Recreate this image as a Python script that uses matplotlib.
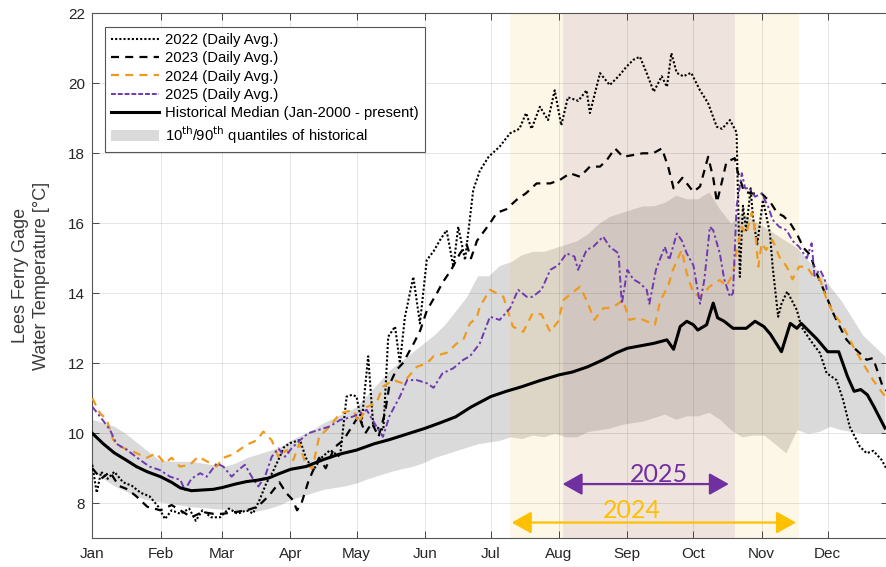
import matplotlib
matplotlib.use("Agg")
import matplotlib.pyplot as plt
from matplotlib.patches import Patch
from matplotlib.lines import Line2D

# ---------------- data (day of year, °C) ----------------
month_labels = ["Jan", "Feb", "Mar", "Apr", "May", "Jun",
                "Jul", "Aug", "Sep", "Oct", "Nov", "Dec"]
month_days = [0, 31, 59, 90, 120, 151, 181, 212, 243, 273, 304, 334]
y_ticks = [8, 10, 12, 14, 16, 18, 20, 22]

q_day = list(range(0, 361, 5))
q90 = [10.4, 10.3, 10.2, 10.0, 9.75, 9.5, 9.25, 9.2, 9.2, 9.2, 9.15, 9.1, 9.05,
       9.15, 9.3, 9.4, 9.5, 9.6, 9.8, 9.95, 10.1, 10.3, 10.45, 10.6, 10.76,
       11.1, 11.45, 11.8, 12.05, 12.3, 12.55, 12.8, 13.1, 13.5, 13.9, 14.5,
       14.5, 14.8, 14.9, 15.1, 15.2, 15.2, 15.3, 15.4, 15.5, 15.7, 16.0, 16.2,
       16.3, 16.4, 16.5, 16.5, 16.6, 16.8, 16.7, 16.7, 16.9, 16.4, 16.0, 16.3,
       16.1, 15.9, 15.7, 15.5, 15.3, 14.95, 14.6, 14.2, 13.8, 13.3, 12.8,
       12.5, 12.2]
q10 = [8.9, 8.7, 8.5, 8.35, 8.2, 8.1, 8.05, 8.0, 7.95, 7.9, 7.88, 7.85, 7.83,
       7.8, 7.78, 7.78, 7.85, 7.95, 8.1, 8.2, 8.3, 8.4, 8.45, 8.5, 8.58, 8.7,
       8.8, 8.9, 8.98, 9.05, 9.15, 9.3, 9.4, 9.5, 9.6, 9.7, 9.75, 9.8, 9.9,
       9.85, 9.95, 9.9, 10.0, 9.9, 9.9, 10.05, 10.1, 10.15, 10.25, 10.3, 10.35,
       10.45, 10.55, 10.4, 10.5, 10.5, 10.6, 10.4, 10.1, 9.9, 9.95, 9.95, 9.7,
       9.44, 10.1, 10.0, 10.05, 10.2, 10.1, 10.05, 10.0, 10.0, 10.0]

med_day = [0, 5, 10, 15, 20, 25, 31, 36, 40, 45, 50, 55, 59, 65, 70, 75, 80,
           85, 90, 97, 105, 112, 120, 128, 135, 143, 151, 158, 165, 172, 181,
           188, 195, 203, 212, 218, 225, 232, 238, 243, 249, 255, 258, 261,
           264, 267, 270, 273, 275, 279, 282, 284, 287, 291, 297, 301, 305,
           308, 313, 317, 320, 322, 325, 329, 334, 339, 343, 346, 349, 352,
           355, 360]
med_val = [10.0, 9.7, 9.44, 9.25, 9.05, 8.9, 8.76, 8.6, 8.44, 8.36, 8.38, 8.4,
           8.45, 8.55, 8.62, 8.66, 8.72, 8.85, 8.97, 9.05, 9.25, 9.4, 9.52, 9.7,
           9.82, 9.98, 10.14, 10.3, 10.47, 10.75, 11.05, 11.2, 11.33, 11.5,
           11.67, 11.75, 11.9, 12.1, 12.3, 12.43, 12.5, 12.57, 12.62, 12.67,
           12.4, 13.05, 13.2, 13.1, 12.95, 13.1, 13.72, 13.3, 13.2, 13.0, 13.0,
           13.2, 13.05, 12.83, 12.33, 13.14, 13.0, 13.14, 12.95, 12.7, 12.33,
           12.33, 11.62, 11.2, 11.25, 11.1, 10.76, 10.15]

y2022_day = [0, 2, 4, 7, 10, 14, 18, 22, 26, 30, 33, 36, 40, 44, 47, 50, 54,
             58, 62, 66, 70, 73, 76, 79, 82, 84.5, 87, 89.8, 94.3, 97, 100.4,
             104, 108, 112.5, 115.5, 118, 120, 122.3, 125.3, 127.6, 132.2,
             134.4, 137.5, 139.7, 142, 145.8, 148.8, 151.9, 155, 157.9, 160.9,
             164, 166.2, 169.3, 173, 176, 180, 185, 189.7, 194, 197, 199.5,
             203.3, 207, 210, 213, 216, 220.7, 224.5, 226, 230.6, 235, 239,
             242.7, 245.7, 248.7, 251.8, 255, 258.6, 261, 263, 265.4, 268.4,
             272, 276, 279.7, 283.6, 286, 289.6, 292.6, 294.1, 295.5, 297, 299,
             300, 302, 304.6, 307.8, 309, 311.5, 313, 315.6, 320, 322, 326,
             330.5, 333.5, 338, 341, 344, 348.6, 351.7, 354.7, 358.5, 361]
y2022_val = [9.1, 8.3, 8.9, 8.7, 8.9, 8.6, 8.5, 8.3, 8.2, 7.9, 7.55, 7.8, 7.7,
             7.85, 7.5, 7.8, 7.6, 7.6, 7.85, 7.7, 7.8, 7.71, 8.1, 8.57, 8.9,
             9.24, 9.6, 9.72, 9.81, 9.3, 8.95, 9.3, 9.52, 9.33, 11.05, 11.1,
             11.05, 10.3, 12.2, 10.2, 10.1, 12.76, 13.05, 12.0, 13.33, 14.47,
             13.14, 14.95, 15.2, 15.52, 15.8, 14.76, 15.9, 14.95, 16.95, 17.5,
             17.9, 18.19, 18.57, 18.7, 19.15, 18.7, 19.33, 18.95, 19.8, 18.8,
             19.6, 19.5, 19.8, 19.15, 20.29, 19.95, 20.2, 20.48, 20.67, 20.76,
             20.29, 19.76, 20.2, 19.9, 20.86, 20.3, 20.2, 20.3, 19.8, 19.43,
             18.76, 18.7, 18.95, 18.6, 14.47, 16.5, 15.8, 17.0, 16.2, 15.4,
             16.67, 15.7, 14.76, 13.33, 13.7, 14.05, 13.52, 13.05, 12.67,
             12.29, 11.72, 11.52, 10.95, 10.19, 9.62, 9.43, 9.5, 9.24, 8.95]

y2023_day = [0, 4, 8, 12, 16, 20, 25, 31, 36, 40, 45, 50, 55, 59, 65, 70, 75,
             80, 85, 88, 91, 93, 95, 98, 100, 103, 106, 110, 114, 118, 121,
             124, 127, 130, 133, 135, 138, 141, 146, 149, 152, 156.5, 159, 163,
             167, 170, 172, 174.7, 180.6, 183.7, 188, 192.7, 197, 201.8, 208,
             212.4, 217, 221.5, 226, 230.6, 233.6, 237.4, 241, 245.6, 250,
             254.7, 258.7, 261.6, 264, 268, 273, 276, 279.7, 282, 283.7, 286,
             288, 291.8, 293, 296, 300, 304, 308, 311, 314, 317, 320, 323, 326,
             329, 333.5, 336, 339, 342.6, 347, 351.7, 354.6, 359, 361]
y2023_val = [9.0, 8.7, 8.9, 8.5, 8.4, 8.2, 7.9, 7.8, 7.95, 7.8, 7.6, 7.75, 7.7,
             7.7, 7.75, 7.8, 7.9, 8.2, 8.6, 8.3, 8.1, 7.8, 8.0, 8.6, 8.9, 9.3,
             9.0, 9.6, 9.8, 10.2, 10.5, 10.0, 10.3, 9.9, 10.6, 11.4, 11.8, 12.0,
             12.57, 12.95, 13.52, 14.0, 14.3, 14.67, 15.14, 15.4, 15.0, 15.5,
             16.0, 16.3, 16.4, 16.67, 16.86, 17.14, 17.14, 17.24, 17.43, 17.33,
             17.62, 17.62, 17.8, 18.14, 17.9, 17.95, 18.0, 18.0, 18.14, 17.6,
             17.0, 17.3, 16.9, 17.05, 17.9, 17.3, 16.6, 17.2, 17.75, 17.86,
             17.5, 16.9, 16.85, 16.85, 16.6, 16.3, 16.2, 16.0, 15.7, 15.3,
             15.1, 14.57, 13.9, 13.5, 13.1, 12.67, 12.38, 12.1, 12.15, 11.33,
             11.2]

y2024_day = [0, 3.5, 6.5, 9.5, 12.6, 18.5, 24.7, 29, 33, 36, 39.8, 44.4, 48,
             52, 56.5, 59.5, 64, 70, 74.7, 77.7, 81.5, 84.5, 88.3, 91.3, 94,
             97, 100, 103, 108, 112.5, 118.5, 121, 124.6, 129, 132, 136.7, 141,
             147.4, 152, 155, 161, 165.6, 168.5, 171.5, 174.6, 176, 180.6,
             186.7, 191, 195.7, 200, 204, 208, 211.6, 214, 217.7, 221.5, 224.5,
             228, 232, 236.5, 241, 244, 248, 251.8, 255.5, 258, 261.5, 263.7,
             267.7, 270, 273, 276, 280.5, 285, 288, 291, 292.6, 295, 297, 299.5,
             301, 302.5, 304, 306, 309, 312, 315.4, 318, 321, 324.5, 327.5,
             330.5, 333.6, 336, 341, 345.6, 350, 354.6, 359, 361]
y2024_val = [11.0, 10.57, 10.4, 9.81, 9.62, 9.48, 9.3, 9.43, 9.14, 9.3, 9.05,
             9.1, 9.33, 9.2, 9.05, 9.3, 9.4, 9.67, 9.8, 10.05, 9.8, 9.33, 9.52,
             9.24, 9.7, 9.1, 9.0, 9.9, 10.2, 10.57, 10.67, 10.3, 10.75, 10.86,
             11.33, 11.52, 11.43, 11.9, 12.0, 12.2, 12.3, 12.57, 12.67, 13.14,
             13.3, 13.62, 14.1, 13.9, 13.05, 12.9, 13.43, 13.4, 12.9, 13.2,
             13.81, 14.0, 14.19, 13.8, 13.24, 13.57, 13.6, 13.8, 13.24, 13.3,
             13.2, 13.1, 13.8, 14.2, 14.67, 15.24, 14.57, 14.0, 13.9, 14.2,
             14.38, 14.2, 14.57, 15.2, 15.9, 15.7, 16.3, 15.8, 14.76, 15.43,
             15.24, 15.52, 15.05, 14.76, 14.4, 14.76, 14.76, 14.48, 14.4,
             13.81, 13.5, 13.05, 12.48, 12.0, 11.52, 11.14, 11.0]

y2025_day = [0, 3.5, 8, 11, 15.6, 21.7, 26, 30.7, 35.3, 40, 42, 45, 49, 52,
             56.5, 59.5, 63.3, 66.3, 69.3, 72.4, 75.4, 78.4, 81.5, 84.5, 87.5,
             90.5, 94.3, 98, 103, 108, 112.5, 118.5, 124.6, 129, 132, 135,
             139.7, 143, 147.4, 152, 155, 159, 164, 168.5, 171.5, 176, 180.6,
             185, 189.7, 193.4, 197.3, 200, 204, 208, 211.6, 215.4, 219, 220.6,
             224.5, 227.5, 232, 235, 239, 240.5, 243, 245.7, 248.7, 251.8, 253,
             256, 260, 262, 265.5, 267.8, 270, 273, 276, 278, 280.5, 282, 285,
             287, 289.6, 291, 292.6, 295, 296.5, 298.6, 301, 304, 307, 309, 312,
             315.4, 318, 321, 324.5, 326.7, 328, 330.5, 332.7, 333.6]
y2025_val = [10.76, 10.48, 10.1, 9.7, 9.53, 9.24, 9.05, 8.95, 8.76, 8.67, 8.38,
             8.7, 8.86, 8.76, 9.14, 9.05, 8.76, 8.95, 9.1, 8.76, 8.48, 8.76,
             9.33, 9.57, 9.33, 9.57, 9.8, 10.0, 10.1, 10.2, 10.38, 10.48, 10.67,
             10.2, 9.9, 10.5, 11.05, 11.52, 11.52, 11.43, 11.3, 11.71, 11.86,
             12.1, 12.2, 12.57, 13.33, 13.24, 13.57, 14.1, 13.9, 13.9, 14.1,
             14.67, 14.8, 15.14, 15.05, 14.67, 15.24, 15.33, 15.62, 15.33,
             15.14, 13.7, 14.67, 14.4, 14.29, 14.1, 13.7, 14.67, 15.33, 14.95,
             15.71, 15.5, 15.14, 14.8, 13.7, 14.4, 15.9, 15.8, 15.14, 14.4, 13.9,
             14.0, 16.47, 17.43, 17.0, 17.0, 16.76, 16.85, 16.47, 16.1, 15.9,
             15.8, 15.5, 15.33, 15.0, 15.43, 14.5, 14.67, 14.4, 14.1]

# highlighted windows (day of year) and arrow annotations
win2024 = (189.8, 321.0)
win2025 = (213.6, 291.9)
arrow2024 = (190.5, 319.6, 7.45)
arrow2025 = (213.6, 289.1, 8.55)

legend_labels = ["2022 (Daily Avg.)", "2023 (Daily Avg.)", "2024 (Daily Avg.)",
                 "2025 (Daily Avg.)", "Historical Median (Jan-2000 - present)",
                 "10$^{\\mathrm{th}}$/90$^{\\mathrm{th}}$ quantiles of historical"]

# ---------------- styling ----------------
c2024 = "#EE9A1E"
c2025 = "#6E3AAE"
arrow_c2025 = "#7030A0"
arrow_c2024 = "#FFC000"
band_c = "#DADADA"

plt.rcParams["font.family"] = ["Liberation Sans", "DejaVu Sans"]

fig = plt.figure(figsize=(8.87, 5.67), dpi=100)
W, H = 887.0, 567.0
x0, x1 = 92.3, 888.0
y_top, y_bot = 13.3, 538.3
ax = fig.add_axes([x0 / W, (H - y_bot) / H, (x1 - x0) / W, (y_bot - y_top) / H])

ax.set_xlim(0, (x1 - x0) / 2.2018)
ax.set_ylim(7, 22)

ax.fill_between(q_day, q10, q90, color=band_c, lw=0, zorder=1)
ax.axvspan(*win2024, color="#F5C040", alpha=0.12, lw=0, zorder=1.2)
ax.axvspan(*win2025, color="#7A3C8C", alpha=0.10, lw=0, zorder=1.3)

ax.plot(y2022_day, y2022_val, color="black", lw=1.5, ls=(0, (1, 1)), zorder=3)
ax.plot(y2023_day, y2023_val, color="black", lw=1.6, ls=(0, (3.6, 2.8)), zorder=3)
ax.plot(y2024_day, y2024_val, color=c2024, lw=1.6, ls=(0, (3.6, 2.8)), zorder=3)
ax.plot(y2025_day, y2025_val, color=c2025, lw=1.4,
        ls=(0, (3.5, 1.5, 1.2, 1.5)), zorder=3)
ax.plot(med_day, med_val, color="black", lw=2.2, zorder=4)

# arrows
for (a, b, yv), col in [(arrow2025, arrow_c2025), (arrow2024, arrow_c2024)]:
    ax.annotate("", xy=(b, yv), xytext=(a, yv),
                arrowprops=dict(arrowstyle="<|-|>,head_length=0.8,head_width=0.45",
                                mutation_scale=15, color=col, lw=1.6,
                                shrinkA=0, shrinkB=0), zorder=5)
ax.text(257.4, 8.83, "2025", color=arrow_c2025, fontsize=18, family="Lato",
        ha="center", va="center", zorder=5)
ax.text(244.9, 7.78, "2024", color=arrow_c2024, fontsize=18, family="Lato",
        ha="center", va="center", zorder=5)

# axes cosmetics
ax.set_xticks(month_days)
ax.set_xticklabels(month_labels)
ax.set_yticks(y_ticks)
ax.set_axisbelow("line")
ax.grid(True, color="#262626", alpha=0.12, lw=0.7)
ax.tick_params(direction="in", length=5, width=0.7, color="#444444",
               labelcolor="#262626", labelsize=11, top=True, right=True)
ax.tick_params(axis="x", pad=6)
ax.tick_params(axis="y", pad=5)
for s in ax.spines.values():
    s.set_color("#555555")
    s.set_linewidth(0.8)

ax.set_ylabel("Lees Ferry Gage\nWater Temperature [\u00b0C]", fontsize=13,
              color="#3a3a3a", linespacing=1.3)
ax.yaxis.set_label_coords((50 - x0) / (x1 - x0), 0.5)

handles = [
    Line2D([], [], color="black", lw=1.5, ls=(0, (1, 1))),
    Line2D([], [], color="black", lw=1.6, ls=(0, (3.6, 2.8))),
    Line2D([], [], color=c2024, lw=1.6, ls=(0, (3.6, 2.8))),
    Line2D([], [], color=c2025, lw=1.4, ls=(0, (2.5, 1.0))),
    Line2D([], [], color="black", lw=2.2),
    Patch(facecolor=band_c, edgecolor="none"),
]
leg = ax.legend(handles, legend_labels, loc="upper left",
                bbox_to_anchor=((105 - x0) / (x1 - x0), 1 - (27 - y_top) / (y_bot - y_top)),
                borderaxespad=0, fontsize=10.7, handlelength=3.2,
                handletextpad=0.45, labelspacing=0.28, borderpad=0.42,
                fancybox=False, framealpha=1, edgecolor="#555555")
leg.get_frame().set_linewidth(0.8)
leg.set_zorder(6)

fig.savefig("out.png", dpi=100)
